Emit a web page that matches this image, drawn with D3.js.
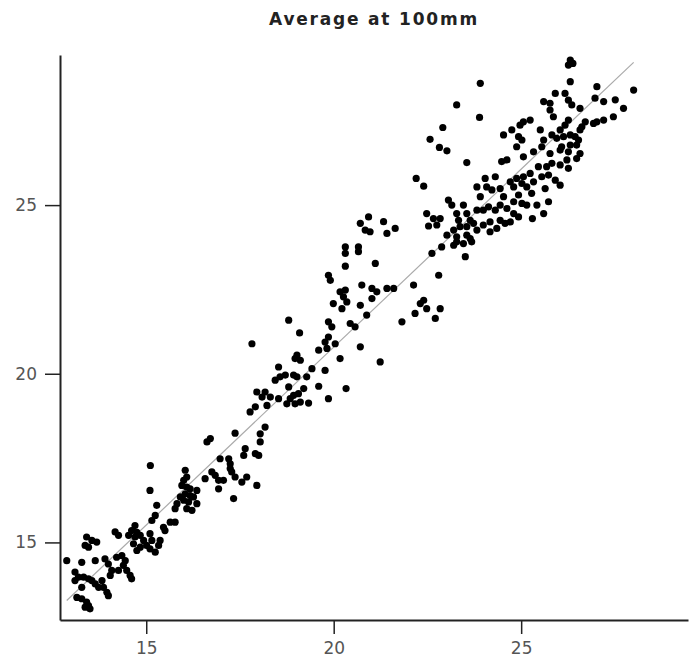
<!DOCTYPE html>
<html>
<head>
<meta charset="utf-8">
<script src="https://cdn.jsdelivr.net/npm/d3@7"></script>
<style>
  html, body { margin: 0; padding: 0; background: #fff; }
  svg { display: block; }
</style>
</head>
<body>
<div id="chart"></div>
<script>
// ---- data ----
const chartTitle = "Average at 100mm";
const xTicks = [15, 20, 25];
const yTicks = [15, 20, 25];
const xDomain = [12.7, 29.45];
const yDomain = [12.7, 29.45];
// fitted line: y = slope * x + intercept
const fitSlope = 1.055;
const fitIntercept = -0.31;

const xValues = [
  15.10,15.50,15.37,15.33,15.10,15.15,
  14.70,14.61,14.75,14.53,14.70,14.84,14.93,15.01,15.10,15.24,14.84,14.75,14.66,
  14.17,14.26,
  13.41,13.55,13.68,13.37,13.46,
  12.88,13.28,13.64,13.90,13.99,14.21,14.35,14.44,14.39,14.48,14.57,14.61,14.26,14.08,14.04,
  13.10,13.19,13.10,13.33,13.46,13.55,13.64,13.28,13.73,13.86,13.95,13.99,13.82,
  13.15,13.28,13.41,13.46,13.37,13.50,
  17.95,18.17,18.09,18.31,18.53,18.22,17.91,17.77,
  18.17,18.04,18.04,17.37,16.71,16.62,17.64,17.60,17.91,18.00,16.97,17.20,17.24,17.24,17.28,16.75,16.84,16.93,17.06,17.37,17.68,17.55,16.57,16.93,17.95,17.33,
  16.04,16.08,16.00,15.95,16.08,16.17,16.35,16.04,16.17,15.91,16.26,16.00,16.13,16.35,15.82,15.77,16.08,16.22,15.28,15.24,15.15,15.64,15.77,15.46,15.11,
  19.91,20.75,21.02,21.15,21.42,21.60,20.17,20.31,20.26,20.35,19.99,20.22,20.71,21.02,20.88,21.82,18.80,19.09,17.82,19.86,19.95,20.44,20.57,19.86,19.77,20.04,19.60,19.82,20.71,20.17,21.24,19.02,19.11,18.97,19.42,19.77,18.53,18.44,18.57,18.71,18.93,19.02,19.28,18.80,19.20,19.06,18.93,18.84,18.75,18.97,19.11,19.33,19.60,19.86,20.33,
  20.93,20.71,21.33,21.64,21.42,20.84,20.97,20.31,20.31,20.66,20.66,21.11,20.31,19.86,
  23.28,23.46,23.68,23.20,23.51,22.88,22.62,22.80,22.13,22.40,22.31,22.48,22.84,22.17,22.71,
  23.28,23.89,22.91,22.57,22.82,23.02,23.55,22.20,22.40,23.82,23.91,
  25.42,25.73,24.80,25.02,25.15,23.06,23.15,23.46,22.48,22.66,22.84,22.53,22.75,23.28,23.33,23.55,23.64,23.82,23.99,24.13,24.31,24.44,24.62,24.80,24.93,23.37,23.20,23.55,23.73,23.82,23.99,24.17,24.44,24.57,24.71,24.17,24.35,23.02,23.28,23.55,23.64,25.60,25.30,
  26.31,26.38,26.26,26.31,23.91,25.91,26.17,25.60,25.77,26.26,26.35,26.57,25.77,25.86,27.02,26.97,27.20,27.51,27.73,28.00,27.46,27.20,27.02,26.93,26.71,26.62,26.57,26.26,26.17,26.04,25.24,25.06,24.97,24.75,24.53,25.51,24.93,25.02,25.82,25.95,26.13,26.31,26.44,26.53,26.48,26.31,26.08,25.60,25.55,25.33,24.88,25.06,24.62,24.48,25.77,26.04,26.26,26.57,26.48,26.22,25.82,25.68,26.04,26.26,25.46,25.24,25.06,24.88,24.71,24.31,24.04,24.08,24.22,24.44,24.80,25.02,25.15,25.33,25.55,25.73,25.91,26.04,25.64,25.28,24.93,24.53
];

const yValues = [
  16.54,15.35,15.06,14.91,15.26,15.06,
  15.50,15.35,15.30,15.21,15.16,15.21,15.06,14.91,14.81,14.71,14.86,14.76,14.96,
  15.31,15.21,
  15.16,15.06,15.01,14.91,14.86,
  14.46,14.41,14.46,14.51,14.36,14.56,14.61,14.46,14.32,14.17,14.02,13.92,14.17,14.17,14.02,
  14.12,13.97,13.87,13.97,13.92,13.87,13.77,13.67,13.67,13.67,13.52,13.42,13.87,
  13.37,13.33,13.23,13.13,13.08,13.03,
  19.46,19.46,19.31,19.31,19.26,19.06,19.02,18.87,
  18.42,18.22,17.98,18.24,18.08,17.98,17.78,17.58,17.63,17.58,17.48,17.48,17.33,17.19,17.09,17.09,16.99,16.84,16.84,16.94,16.94,16.79,16.89,16.59,16.69,16.30,
  17.14,16.94,16.84,16.69,16.64,16.59,16.54,16.44,16.39,16.35,16.35,16.25,16.20,16.15,16.15,16.00,16.00,15.95,16.10,15.80,15.65,15.60,15.60,15.45,17.28,
  22.77,22.63,22.53,22.43,22.53,22.53,22.43,22.48,22.28,22.13,22.08,21.93,22.03,22.23,21.74,21.54,21.59,21.21,20.89,21.54,21.39,21.49,21.39,21.09,20.94,20.89,20.70,20.75,20.80,20.45,20.35,20.55,20.40,20.45,20.15,20.10,20.20,19.81,19.91,19.96,19.96,19.91,19.91,19.61,19.56,19.41,19.36,19.26,19.11,19.11,19.16,19.13,19.63,19.26,19.56,
  24.65,24.46,24.51,24.31,24.16,24.26,24.21,23.76,23.57,23.76,23.62,23.27,23.19,22.92,
  23.91,23.86,23.91,23.81,23.47,23.76,23.57,22.92,22.63,22.18,22.08,21.93,21.93,21.79,21.64,
  27.97,27.60,27.30,26.95,26.71,26.61,26.26,25.79,25.56,25.54,25.25,
  25.00,25.10,25.10,25.05,25.00,25.15,25.00,25.00,24.75,24.60,24.60,24.38,24.41,24.75,24.55,24.75,24.55,24.85,24.85,24.95,24.85,25.00,24.90,24.75,24.65,24.36,24.26,24.36,24.46,24.26,24.41,24.50,24.55,24.46,24.50,24.21,24.31,24.11,24.06,24.11,24.01,24.75,24.60,
  29.30,29.20,29.15,28.66,28.61,28.31,28.31,28.07,28.02,28.11,27.97,27.87,27.82,27.62,28.51,28.17,28.07,28.12,27.87,28.41,27.62,27.52,27.47,27.42,27.47,27.32,27.23,27.52,27.37,27.23,27.52,27.47,27.37,27.23,27.08,27.23,27.03,26.93,27.08,26.98,27.03,27.08,27.03,26.93,26.78,26.78,26.73,26.93,26.73,26.58,26.73,26.43,26.34,26.29,26.53,26.63,26.58,26.53,26.38,26.34,26.24,26.14,26.19,26.09,26.14,25.94,25.84,25.79,25.69,25.84,25.79,25.54,25.45,25.49,25.54,25.64,25.54,25.69,25.84,25.89,25.74,25.59,25.49,25.35,25.30,25.25
];

// ---- drawing ----
const width = 694, height = 669;
const margin = { left: 60, right: 6, top: 55, bottom: 49 };

const svg = d3.select("#chart").append("svg")
  .attr("width", width).attr("height", height);

const x = d3.scaleLinear().domain(xDomain).range([margin.left, width - margin.right]);
const y = d3.scaleLinear().domain(yDomain).range([height - margin.bottom, margin.top]);

const points = xValues.map((v, i) => ({ x: v, y: yValues[i] }));

// title
svg.append("text")
  .attr("x", (margin.left + width - margin.right) / 2)
  .attr("y", 25)
  .attr("text-anchor", "middle")
  .attr("font-family", "DejaVu Sans, sans-serif")
  .attr("font-weight", "bold")
  .attr("font-size", 17)
  .attr("letter-spacing", 1.8)
  .attr("fill", "#222")
  .text(chartTitle);

// fit line
const xe = d3.extent(xValues);
svg.append("line")
  .attr("x1", x(xe[0])).attr("y1", y(fitSlope * xe[0] + fitIntercept))
  .attr("x2", x(xe[1])).attr("y2", y(fitSlope * xe[1] + fitIntercept))
  .attr("stroke", "#aaaaaa").attr("stroke-width", 1.2);

// points
svg.append("g").selectAll("circle").data(points).join("circle")
  .attr("cx", d => x(d.x)).attr("cy", d => y(d.y))
  .attr("r", 3.6).attr("fill", "#000");

// axes
const xAxis = d3.axisBottom(x).tickValues(xTicks).tickSize(14).tickPadding(8).tickSizeOuter(0);
const yAxis = d3.axisLeft(y).tickValues(yTicks).tickSize(15).tickPadding(8).tickSizeOuter(0);

const gx = svg.append("g").attr("transform", `translate(0,${height - margin.bottom})`).call(xAxis);
const gy = svg.append("g").attr("transform", `translate(${margin.left},0)`).call(yAxis);

[gx, gy].forEach(g => {
  g.select(".domain").attr("stroke", "#222").attr("stroke-width", 2);
  g.selectAll(".tick line").attr("stroke", "#222").attr("stroke-width", 1.5);
  g.selectAll(".tick text")
    .attr("font-family", "DejaVu Sans, sans-serif")
    .attr("font-size", 17)
    .attr("fill", "#555");
});
</script>
</body>
</html>
